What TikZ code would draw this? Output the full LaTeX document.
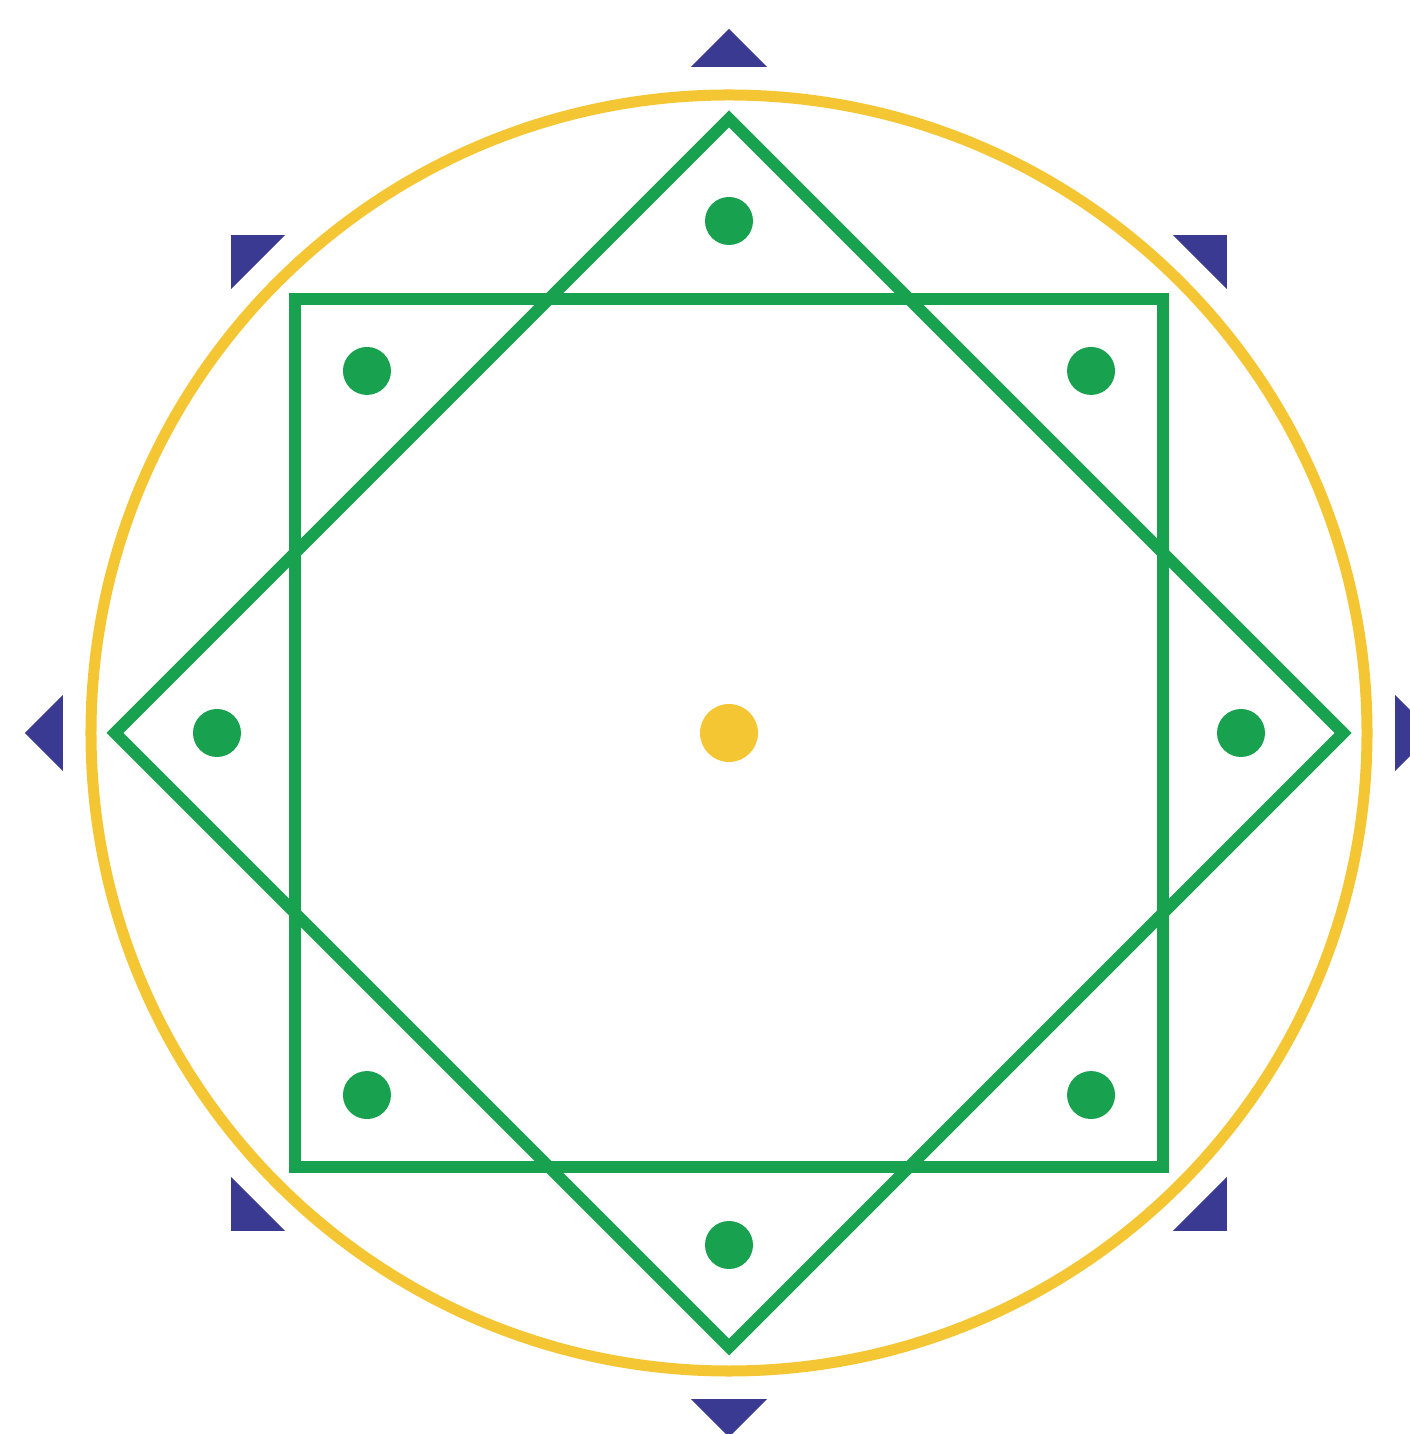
\documentclass[tikz,border=0pt]{standalone}
\definecolor{SealNavy}{HTML}{3A3A93}
\definecolor{SealGreen}{HTML}{18A24F}
\definecolor{SealGold}{HTML}{F5C633}

\begin{document}
\begin{tikzpicture}[x=0.01cm,y=0.01cm,
    ring/.style={draw=SealGold,line width=0.11cm},
    greenline/.style={draw=SealGreen,line width=0.12cm,miter limit=10},
    pip/.style={fill=SealGreen},
    pointer/.style={fill=SealNavy}]
  \useasboundingbox (-729,-701) rectangle (681,733);
  \clip (-729,-701) rectangle (681,733);

  \coordinate (hub) at (0,0);
  \draw[ring] (hub) circle (638);
  \draw[greenline] (-434,-434) rectangle (434,434);
  \draw[greenline] (0,614) -- (614,0) -- (0,-614) -- (-614,0) -- cycle;

  % dots inside the points, pointers outside the ring
  \foreach \a in {0,45,...,315}{
    \fill[pip] (\a+90:512) circle (24);
    \fill[pointer,rotate=\a] (0,704) -- (38,666) -- (-38,666) -- cycle;
  }
  \fill[SealGold] (hub) circle (29);
\end{tikzpicture}
\end{document}
